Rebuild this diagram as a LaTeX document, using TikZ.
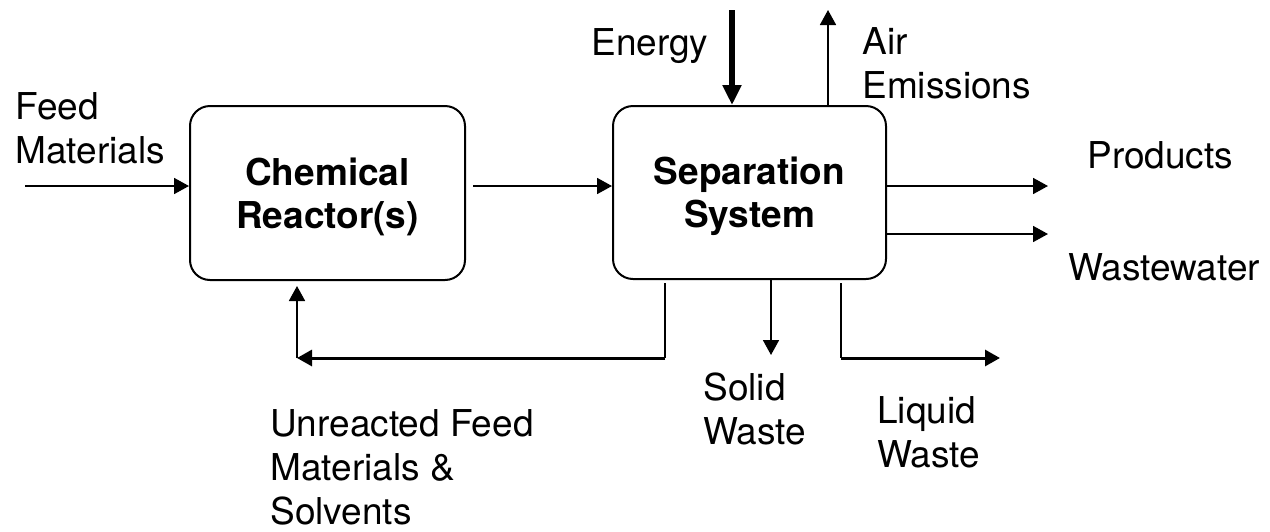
\documentclass[tikz,border=0pt]{standalone}
\usepackage{fontspec}
\setmainfont{TeX Gyre Heros}
\usetikzlibrary{arrows.meta}
\begin{document}
\begin{tikzpicture}[x=0.5pt,y=-0.5pt,
  lbl/.style={anchor=base west,align=left,inner sep=0pt,font=\fontsize{18.5}{22}\selectfont},
  box/.style={draw,line width=1pt,rounded corners=10pt,align=center,inner sep=0pt,text depth=0pt,font=\fontsize{18.5}{21.5}\selectfont\bfseries},
  arr/.style={line width=0.9pt,-{Triangle[length=7.5pt,width=8pt]}},
  bigarr/.style={line width=3pt,-{Triangle[length=10pt,width=9pt]}},
  hline/.style={line width=1.5pt},
  vline/.style={line width=1pt}]
\useasboundingbox (0,0) rectangle (1270,531);
% boxes
\node[box,minimum width=137.5pt,minimum height=87pt] (cr) at (327.5,193) {Chemical\\Reactor(s)};
\node[box,minimum width=136.5pt,minimum height=86.5pt] (sep) at (749.5,192.5) {Separation\\System};
% labels (base anchor = baseline of the last line)
\node[lbl] (feed) at (15,163) {Feed\\Materials};
\node[lbl] (energy) at (591,55) {Energy};
\node[lbl] (air) at (862,98) {Air\\Emissions};
\node[lbl] (prod) at (1087,168) {Products};
\node[lbl] (ww) at (1068,280) {Wastewater};
\node[lbl] (solid) at (703,444) {Solid\\Waste};
\node[lbl] (liquid) at (877,467) {Liquid\\Waste};
\node[lbl] (unr) at (270,524) {Unreacted Feed\\Materials \&\\Solvents};
% coordinates
\coordinate (fin) at (25,186);
\coordinate (m1) at (473,186);
\coordinate (p) at (1048,186);
\coordinate (w) at (1048,234);
\coordinate (e) at (732,10);
\coordinate (a) at (828,10);
\coordinate (r1) at (665,283);
\coordinate (r2) at (665,358);
\coordinate (r3) at (297,358);
\coordinate (s) at (771,355);
\coordinate (l1) at (841,283);
\coordinate (l2) at (1000,358);
% connectors
\draw[arr] (fin) -- (fin -| cr.west);
\draw[arr] (m1) -- (m1 -| sep.west);
\draw[arr] (p -| sep.east) -- (p);
\draw[arr] (w -| sep.east) -- (w);
\draw[bigarr] (e) -- (e |- sep.north);
\draw[arr] (a |- sep.north) -- (a);
\draw[vline] (r1) -- (r2);
\draw[hline,-{Triangle[length=7.5pt,width=8pt]}] (r2) -- (r3);
\draw[arr,shorten >=2.5pt] (r3) -- (r3 |- cr.south);
\draw[arr] (s |- sep.south) -- (s);
\draw[vline] (l1) -- (l1 |- l2);
\draw[hline,-{Triangle[length=7.5pt,width=8pt]}] (l1 |- l2) -- (l2);
\end{tikzpicture}
\end{document}
